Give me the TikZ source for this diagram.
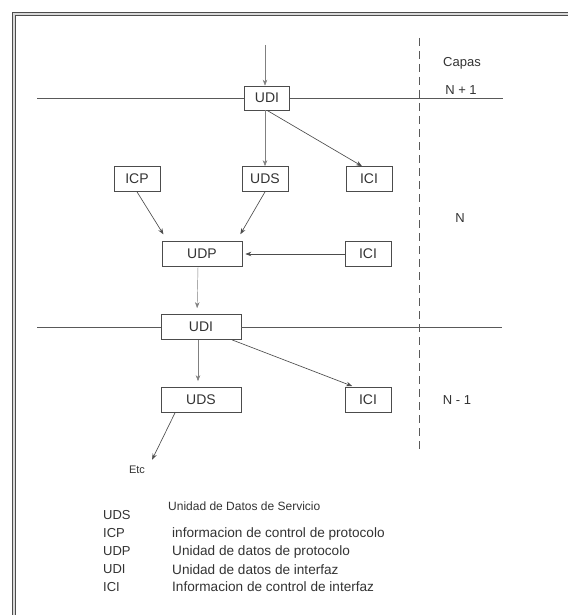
\documentclass[tikz,border=0pt]{standalone}
\usepackage{fontspec}
\setmainfont{Liberation Sans}
\usetikzlibrary{arrows.meta}
\begin{document}
\begin{tikzpicture}[x=1pt,y=-1pt,
  box/.style={draw=black!70, line width=0.7pt, inner sep=0pt,
    font=\fontsize{14}{16}\selectfont, text=black!80},
  small/.style={box, minimum width=46pt, minimum height=25pt},
  wide/.style={box, minimum width=80pt, minimum height=25pt},
  link/.style={draw=black!70, line width=0.65pt, -{Stealth[length=6pt,width=4.5pt]}},
  faint/.style={draw=black!50, line width=0.45pt, -{Stealth[length=6pt,width=4.5pt]}},
  layer/.style={draw=black!65, line width=0.7pt},
  lbl/.style={text=black!80, font=\fontsize{13}{15}\selectfont, inner sep=0pt},
  legend/.style={lbl, anchor=west},
  descr/.style={legend, font=\fontsize{13.6}{15}\selectfont},
]
\useasboundingbox (0,0) rectangle (567,615);

% outer double frame (top and left edges)
\draw[black!70, line width=1.1pt, double=black!15, double distance=2pt]
  (14,616) -- (14,14) -- (568,14);

% boxes
\node[box, minimum width=45pt, minimum height=24pt] (udiA) at (267,98) {UDI};
\node[small] (icp)  at (137,179) {ICP};
\node[small] (udsA) at (265,179) {UDS};
\node[small] (iciA) at (369,179) {ICI};
\node[wide]  (udp)  at (202,254) {UDP};
\node[small] (iciB) at (368,254) {ICI};
\node[wide]  (udiB) at (201,327) {UDI};
\node[wide]  (udsB) at (201,400) {UDS};
\node[small] (iciC) at (368,400) {ICI};

% layer boundaries
\coordinate (lA) at (37,98);
\coordinate (rA) at (503,98);
\coordinate (lB) at (37,327);
\coordinate (rB) at (502,327);
\draw[layer] (lA) -- (udiA.west);
\draw[layer] (udiA.east) -- (rA);
\draw[layer] (lB) -- (udiB.west);
\draw[layer] (udiB.east) -- (rB);

% layer separator
\coordinate (sepTop) at (419,38);
\coordinate (sepBot) at (419,451);
\draw[black!65, line width=0.8pt, dash pattern=on 8pt off 5pt] (sepTop) -- (sepBot);

% layer labels
\node[lbl] (capas) at (462,63) {Capas};
\node[lbl] (nplus) at (461,90) {N + 1};
\node[lbl] (n)     at (460,218) {N};
\node[lbl] (nminus) at (457,400) {N - 1};

% flows
\coordinate (in) at (265,45);
\draw[faint] (in) -- (in |- udiA.north);
\draw[faint] (udsA.north |- udiA.south) -- (udsA.north);
\draw[link] (udiA.south) -- ([xshift=-7pt]iciA.north);
\draw[link, shorten >=8pt] (icp.south) -- ([xshift=6pt]udp.north west);
\draw[link, shorten >=8pt] (udsA.south) -- ([xshift=-6pt]udp.north east);
\draw[link, shorten >=3pt] (iciB.west) -- (udp.east);
\draw[faint, shorten >=6pt] ([xshift=-4pt]udp.south) -- ([xshift=-4pt]udiB.north);
\draw[faint, shorten >=6pt] ([xshift=-3pt]udiB.south) -- ([xshift=-3pt]udsB.north);
\draw[link, shorten >=3pt] ([xshift=31pt]udiB.south) -- ([xshift=-13pt]iciC.north);

\node[lbl, font=\fontsize{11}{13}\selectfont] (etc) at (137,470) {Etc};
\draw[link, shorten >=7pt] ([xshift=-26pt]udsB.south) -- ([xshift=12pt]etc.north);

% legend
\node[legend, font=\fontsize{12}{14}\selectfont] (hUDS) at (168,506) {Unidad de Datos de Servicio};
\node[legend] (kUDS) at (103,515) {UDS};
\node[legend] (kICP) at (103,533) {ICP};
\node[legend] (kUDP) at (103,551) {UDP};
\node[legend] (kUDI) at (103,569) {UDI};
\node[legend] (kICI) at (103,587) {ICI};
\node[descr] (dICP) at (172,534) {informacion de control de protocolo};
\node[descr] (dUDP) at (172,552) {Unidad de datos de protocolo};
\node[descr] (dUDI) at (172,570) {Unidad de datos de interfaz};
\node[descr] (dICI) at (172,587) {Informacion de control de interfaz};
\end{tikzpicture}
\end{document}
